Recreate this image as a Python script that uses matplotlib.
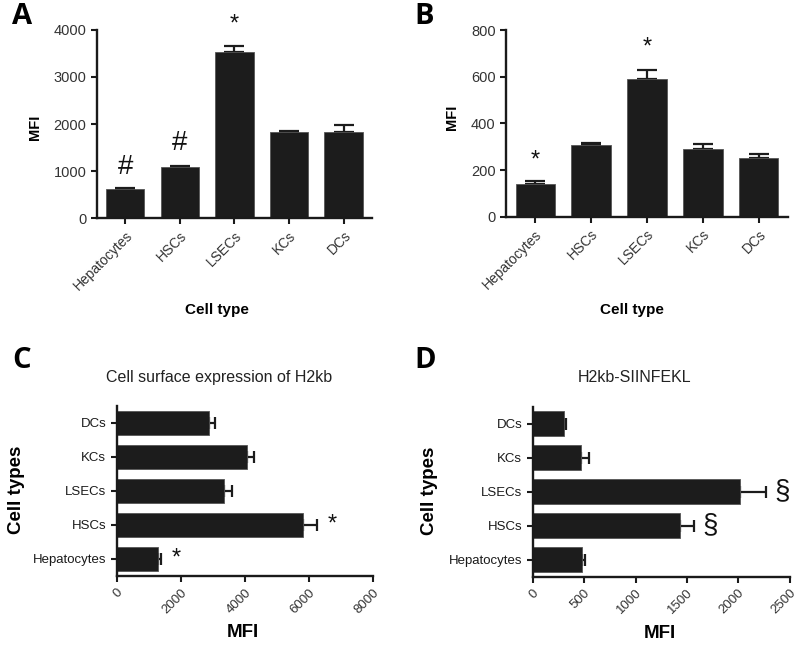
import matplotlib
matplotlib.use("Agg")
import matplotlib.pyplot as plt
import numpy as np

plt.rcParams['font.family'] = ['Liberation Sans', 'DejaVu Sans']

cells = ["Hepatocytes", "HSCs", "LSECs", "KCs", "DCs"]

# Panel A
a_vals = [620, 1075, 3525, 1835, 1825]
a_err = [15, 40, 145, 15, 150]
a_marks = ["#", "#", "*", "", ""]
a_mark_y = [1085, 1600, 4110, 0, 0]

# Panel B
b_vals = [140, 307, 592, 292, 252]
b_err = [12, 11, 35, 20, 15]
b_marks = ["*", "", "*", "", ""]
b_mark_y = [240, 0, 725, 0, 0]

# Panel C (order bottom -> top)
c_vals = [1298, 5815, 3354, 4050, 2887]
c_err = [72, 415, 250, 227, 187]
c_marks = ["*", "*", "", "", ""]
c_mark_x = [1870, 6710, 0, 0, 0]

# Panel D
d_vals = [476, 1437, 2020, 466, 304]
d_err = [32, 129, 246, 84, 19]
d_marks = ["", "§", "§", "", ""]
d_mark_x = [0, 1721, 2422, 0, 0]

BAR = "#1c1c1c"
TICKC = "#333333"

fig = plt.figure(figsize=(8, 6.45), dpi=100)

def style(ax):
    for s in ["top", "right"]:
        ax.spines[s].set_visible(False)
    for s in ["left", "bottom"]:
        ax.spines[s].set_linewidth(1.7)
        ax.spines[s].set_color("#1a1a1a")
    ax.tick_params(direction="out", length=4, width=1.5, colors="#1a1a1a",
                   labelcolor=TICKC, labelsize=10)

def vpanel(rect, vals, err, marks, marky, ymax, yticks, label_pos, xl_pos):
    ax = fig.add_axes(rect)
    x = np.arange(len(cells))
    ax.bar(x, vals, width=0.7, color=BAR, edgecolor="#555555", linewidth=0.6, zorder=2)
    ax.errorbar(x, vals, yerr=[np.zeros(len(vals)), err], fmt="none",
                ecolor="#1c1c1c", elinewidth=1.6, capsize=7, capthick=1.6, zorder=1)
    ax.set_xlim(-0.52, 4.52)
    ax.set_ylim(0, ymax)
    ax.set_yticks(yticks)
    ax.set_xticks(x)
    ax.set_xticklabels(cells, rotation=45, ha="right", rotation_mode="anchor")
    style(ax)
    ax.tick_params(axis="y", labelsize=10.5)
    ax.text(*label_pos, "MFI", transform=ax.transAxes, rotation=90,
            ha="center", va="center", fontweight="bold", fontsize=10.5)
    ax.text(*xl_pos, "Cell type", transform=ax.transAxes,
            ha="center", va="center", fontweight="bold", fontsize=11)
    for xi, m, my in zip(x, marks, marky):
        if m:
            ax.text(xi, my, m, ha="center", va="center",
                    fontsize=20 if m == "#" else 17, color="#111111", clip_on=False)
    return ax

def hpanel(rect, vals, err, marks, markx, xmax, xticks, title, title_x, yl_x):
    ax = fig.add_axes(rect)
    y = np.arange(len(cells))
    ax.barh(y, vals, height=0.73, color=BAR, edgecolor="#555555", linewidth=0.6, zorder=2)
    ax.errorbar(vals, y, xerr=[np.zeros(len(vals)), err], fmt="none",
                ecolor="#1c1c1c", elinewidth=1.6, capsize=4.5, capthick=1.6, zorder=1)
    ax.set_ylim(-0.5, 4.5)
    ax.set_xlim(0, xmax)
    ax.set_xticks(xticks)
    ax.set_xticklabels([str(t) for t in xticks], rotation=45, ha="right",
                       rotation_mode="anchor")
    ax.set_yticks(y)
    ax.set_yticklabels(cells)
    style(ax)
    ax.tick_params(axis="y", labelcolor="#1a1a1a", labelsize=9.5)
    ax.tick_params(axis="x", labelsize=9.5)
    ax.text(yl_x, 0.506, "Cell types", transform=ax.transAxes, rotation=90,
            ha="center", va="center", fontweight="bold", fontsize=13.5)
    ax.text(0.493, -0.335, "MFI", transform=ax.transAxes,
            ha="center", va="center", fontweight="bold", fontsize=13.5)
    ax.text(title_x, 1.17, title, transform=ax.transAxes, ha="center",
            va="center", fontsize=11.5, color="#222222")
    for yi, m, mx in zip(y, marks, markx):
        if m:
            ax.text(mx, yi, m, ha="center", va="center",
                    fontsize=17 if m == "*" else 20, color="#111111", clip_on=False)
    return ax

vpanel([0.121, 0.662, 0.344, 0.2915], a_vals, a_err, a_marks, a_mark_y,
       4000, [0, 1000, 2000, 3000, 4000], (-0.225, 0.484), (0.436, -0.49))
vpanel([0.6325, 0.664, 0.3525, 0.2894], b_vals, b_err, b_marks, b_mark_y,
       800, [0, 200, 400, 600, 800], (-0.193, 0.534), (0.447, -0.5))
hpanel([0.1459, 0.107, 0.3208, 0.2636], c_vals, c_err, c_marks, c_mark_x,
       8000, [0, 2000, 4000, 6000, 8000], "Cell surface expression of H2kb", 0.40, -0.39)
hpanel([0.6659, 0.106, 0.3212, 0.2636], d_vals, d_err, d_marks, d_mark_x,
       2500, [0, 500, 1000, 1500, 2000, 2500], "H2kb-SIINFEKL", 0.396, -0.40)

for lbl, x, y in [("A", 22, 17), ("B", 424, 17), ("C", 22, 361), ("D", 425, 361)]:
    fig.text(x / 800, 1 - y / 645, lbl, fontsize=21, fontweight="bold",
             ha="center", va="center", family=["Open Sans", "DejaVu Sans"])

fig.savefig("out.png", dpi=100)
